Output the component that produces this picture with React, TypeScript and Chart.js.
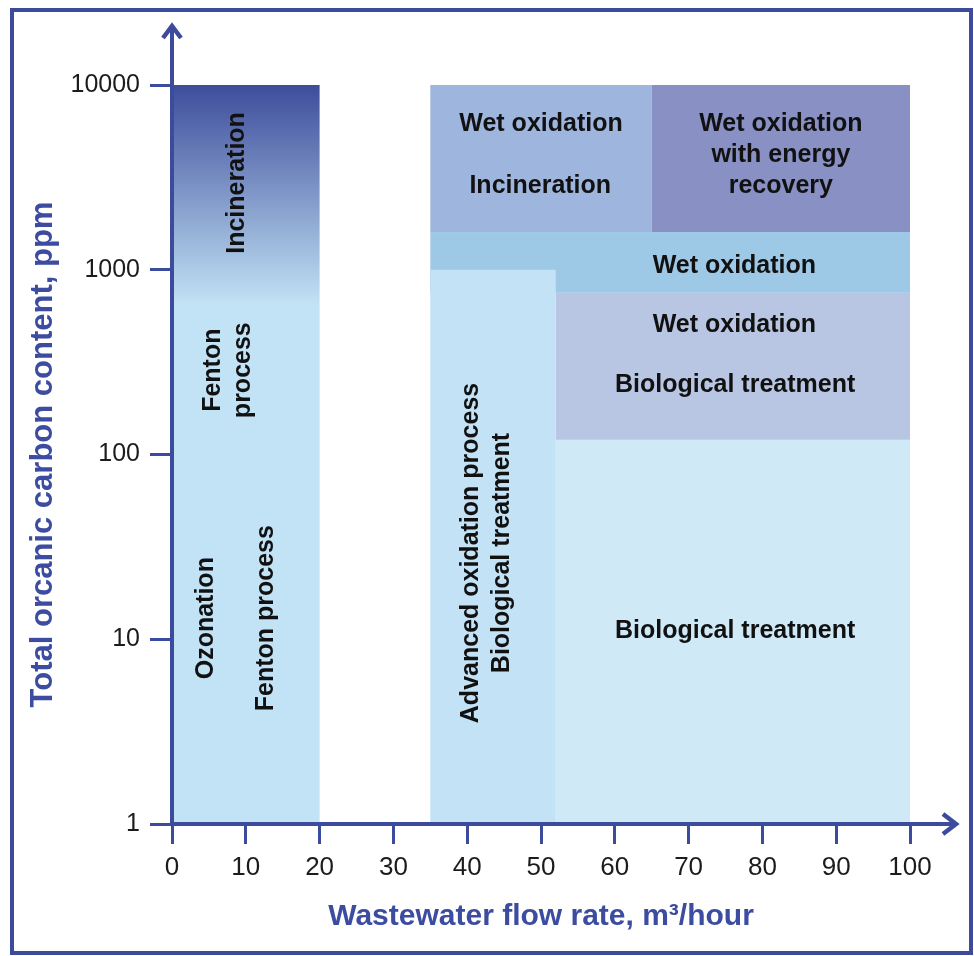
import React, { useEffect, useRef } from "react";
import { Chart, registerables } from "chart.js";

Chart.register(...registerables);

// ---- data ----
const xTickValues = [0, 10, 20, 30, 40, 50, 60, 70, 80, 90, 100];
const yTickValues = [1, 10, 100, 1000, 10000];

const regionNames = [
  "Incineration / Fenton / Ozonation column",
  "Wet oxidation, Incineration",
  "Wet oxidation with energy recovery",
  "Wet oxidation band",
  "Wet oxidation, Biological treatment",
  "Biological treatment",
  "Advanced oxidation process, Biological treatment",
];
const regionXStart = [0, 35, 65, 35, 52, 52, 35];
const regionXEnd = [20, 65, 100, 100, 100, 100, 52];
const regionYLow = [1, 1600, 1600, 750, 120, 1, 1];
const regionYHigh = [10000, 10000, 10000, 1600, 750, 120, 1000];
const regionColors = ["#c2e2f5", "#9eb6dd", "#8890c4", "#9dc9e7", "#b9c6e3", "#cfe9f7", "#c3e2f5"];
const gradientTopColor = "#3e4d9b";
const gradientEndValue = 650; // ppm where the incineration gradient fades out

const labelTexts = [
  "Incineration",
  "Fenton",
  "process",
  "Ozonation",
  "Fenton process",
  "Advanced oxidation process",
  "Biological treatment",
  "Wet oxidation",
  "Incineration",
  "Wet oxidation",
  "with energy",
  "recovery",
  "Wet oxidation",
  "Wet oxidation",
  "Biological treatment",
  "Biological treatment",
];
const labelX = [8.8, 5.6, 9.6, 4.6, 12.8, 40.5, 44.7, 50.0, 49.9, 82.5, 82.5, 82.5, 76.2, 76.2, 76.3, 76.3];
const labelY = [2950, 286, 286, 13, 13, 29.3, 29.3, 6180, 2850, 6180, 4190, 2850, 1040, 504, 236, 11.1];
const labelRotated = [true, true, true, true, true, true, true, false, false, false, false, false, false, false, false, false];

const AXIS_COLOR = "#3d4b9c";
const TITLE_COLOR = "#3c4ca0";

const drawPlugin = {
  id: "regionsAndAxes",
  beforeDatasetsDraw(chart: any) {
    const { ctx, scales } = chart;
    const xs = scales.x;
    const ys = scales.y;
    ctx.save();
    for (let i = 0; i < regionNames.length; i++) {
      const x0 = xs.getPixelForValue(regionXStart[i]);
      const x1 = xs.getPixelForValue(regionXEnd[i]);
      const yTop = ys.getPixelForValue(regionYHigh[i]);
      const yBot = ys.getPixelForValue(regionYLow[i]);
      if (i === 0) {
        const gEnd = ys.getPixelForValue(gradientEndValue);
        const g = ctx.createLinearGradient(0, yTop, 0, gEnd);
        g.addColorStop(0, gradientTopColor);
        g.addColorStop(1, regionColors[i]);
        ctx.fillStyle = g;
      } else {
        ctx.fillStyle = regionColors[i];
      }
      ctx.fillRect(x0, yTop, x1 - x0, yBot - yTop);
    }
    ctx.restore();
  },
  afterDatasetsDraw(chart: any) {
    const { ctx, scales } = chart;
    const xs = scales.x;
    const ys = scales.y;
    ctx.save();
    ctx.fillStyle = "#111111";
    ctx.font = "bold 25px 'Liberation Sans', Arial, sans-serif";
    ctx.textAlign = "center";
    ctx.textBaseline = "middle";
    for (let i = 0; i < labelTexts.length; i++) {
      const px = xs.getPixelForValue(labelX[i]);
      const py = ys.getPixelForValue(labelY[i]);
      ctx.save();
      ctx.translate(px, py);
      if (labelRotated[i]) ctx.rotate(-Math.PI / 2);
      ctx.fillText(labelTexts[i], 0, 0);
      ctx.restore();
    }
    ctx.restore();
  },
  afterDraw(chart: any) {
    const { ctx, chartArea } = chart;
    const { left, right, top, bottom } = chartArea;
    ctx.save();
    ctx.strokeStyle = AXIS_COLOR;
    ctx.lineCap = "butt";
    // frame
    ctx.lineWidth = 4;
    ctx.strokeRect(12, 10, 959, 943);
    // y axis line
    ctx.lineWidth = 4;
    ctx.beginPath();
    ctx.moveTo(left, bottom + 2);
    ctx.lineTo(left, top - 59);
    ctx.stroke();
    // x axis line
    ctx.beginPath();
    ctx.moveTo(left - 2, bottom);
    ctx.lineTo(right + 46, bottom);
    ctx.stroke();
    // arrowheads
    ctx.lineWidth = 4.5;
    ctx.lineJoin = "miter";
    ctx.beginPath();
    ctx.moveTo(left - 9, top - 47);
    ctx.lineTo(left, top - 59);
    ctx.lineTo(left + 9, top - 47);
    ctx.stroke();
    ctx.beginPath();
    ctx.moveTo(right + 33, bottom - 10);
    ctx.lineTo(right + 46, bottom);
    ctx.lineTo(right + 33, bottom + 10);
    ctx.stroke();
    ctx.restore();
  },
};

export default function App() {
  const canvasRef = useRef<HTMLCanvasElement | null>(null);

  useEffect(() => {
    document.body.style.margin = "0";
    document.body.style.overflow = "hidden";
    const canvas = canvasRef.current;
    if (!canvas) return;
    const chart = new Chart(canvas, {
      type: "scatter",
      data: { datasets: [] },
      plugins: [drawPlugin],
      options: {
        responsive: false,
        animation: false,
        events: [],
        layout: { padding: { left: 12, top: 85, right: 64, bottom: 12 } },
        plugins: {
          legend: { display: false },
          tooltip: { enabled: false },
          title: { display: false },
        },
        scales: {
          x: {
            type: "linear",
            min: 0,
            max: 100,
            afterBuildTicks: (scale: any) => {
              scale.ticks = xTickValues.map((v) => ({ value: v }));
            },
            afterFit: (scale: any) => {
              scale.height = 120;
            },
            border: { display: false },
            grid: {
              drawOnChartArea: false,
              drawTicks: true,
              tickLength: 20,
              tickWidth: 3,
              tickColor: AXIS_COLOR,
              color: AXIS_COLOR,
            },
            ticks: {
              padding: 8,
              color: "#1c1c1c",
              maxRotation: 0,
              autoSkip: false,
              font: { family: "'Liberation Sans Narrow', 'Liberation Sans', Arial, sans-serif", size: 26 },
              callback: (v: any) => String(v),
            },
            title: {
              display: true,
              text: "Wastewater flow rate, m³/hour",
              color: TITLE_COLOR,
              font: { family: "'Liberation Sans', Arial, sans-serif", size: 30, weight: "bold" },
              padding: { top: 0, bottom: 9 },
            },
          },
          y: {
            type: "logarithmic",
            min: 1,
            max: 10000,
            afterBuildTicks: (scale: any) => {
              scale.ticks = yTickValues.map((v) => ({ value: v }));
            },
            afterFit: (scale: any) => {
              scale.width = 160;
            },
            border: { display: false },
            grid: {
              drawOnChartArea: false,
              drawTicks: true,
              tickLength: 22,
              tickWidth: 3,
              tickColor: AXIS_COLOR,
              color: AXIS_COLOR,
            },
            ticks: {
              padding: 10,
              color: "#1c1c1c",
              autoSkip: false,
              font: { family: "'Liberation Sans', Arial, sans-serif", size: 25 },
              callback: (v: any) => String(v),
            },
            title: {
              display: true,
              text: "Total orcanic carbon content, ppm",
              color: TITLE_COLOR,
              font: { family: "'Liberation Sans', Arial, sans-serif", size: 31, weight: "bold" },
              padding: { top: 13, bottom: 0 },
            },
          },
        },
      },
    } as any);
    return () => chart.destroy();
  }, []);

  return (
    <div style={{ width: 974, height: 956, background: "#ffffff" }}>
      <canvas ref={canvasRef} width={974} height={956} style={{ display: "block" }} />
    </div>
  );
}
